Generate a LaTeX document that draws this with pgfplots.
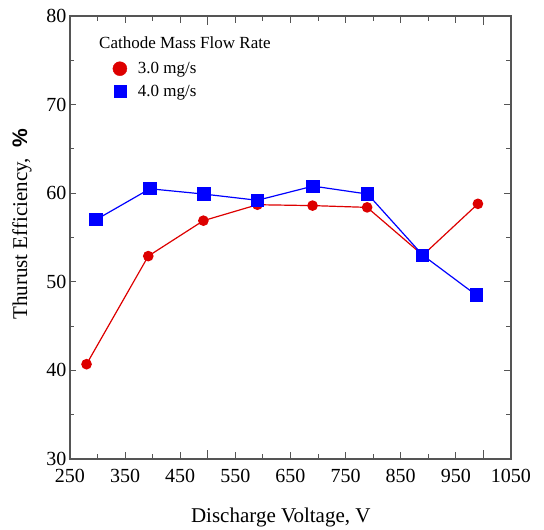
\documentclass[border=0pt]{standalone}
\usepackage{fontspec}
\setmainfont{Liberation Serif}
\setsansfont{Liberation Sans}
\usepackage{pgfplots}
\pgfplotsset{compat=1.18}
\definecolor{myred}{RGB}{221,0,0}
\definecolor{myblue}{RGB}{0,0,255}
\definecolor{axgray}{RGB}{85,85,85}
\begin{document}
\begin{tikzpicture}
\begin{axis}[
  at={(0pt,0pt)}, anchor=south west,
  scale only axis, width=441pt, height=443pt,
  xmin=250, xmax=1050, ymin=30, ymax=80,
  xtick={250,350,...,1050},
  minor xtick={300,400,...,1000},
  extra x ticks={500,1000}, extra x tick labels={},
  extra x tick style={major tick length=9pt},
  ytick={30,40,...,80},
  minor ytick={35,45,...,75},
  tick align=inside,
  major tick length=6.5pt, minor tick length=4.5pt,
  axis line style={axgray, line width=1.3pt},
  tick style={axgray, line width=1pt},
  tick label style={font=\fontsize{20}{24}\selectfont},
  xticklabel style={yshift=-7pt},
  /pgf/number format/assume math mode=true,
  /pgf/number format/set thousands separator={},
  xlabel={Discharge Voltage, V},
  ylabel={Thurust Efficiency,~~\textsf{\textbf{\%}}},
  label style={font=\fontsize{21}{25}\selectfont},
  xlabel style={at={(axis description cs:0.478,-0.131)}, anchor=center},
  ylabel style={at={(axis description cs:-0.109,0.53)}, anchor=center},
  legend style={draw=none, fill=none, at={(axis description cs:0.09,0.905)}, anchor=north west,
    font=\fontsize{17}{20}\selectfont, row sep=6pt,
    /tikz/every odd column/.append style={column sep=9pt}},
  legend cell align=left,
]
\addplot[myred, line width=1.2pt, mark=*, mark size=4.7pt, mark options={fill=myred, draw=myred}, forget plot]
  coordinates {(280,40.7) (392,52.9) (492,56.9) (590,58.7) (690,58.6) (789,58.4) (890,53.0) (990,58.8)};
\addplot[myblue, line width=1.2pt, mark=square*, mark size=6pt, mark options={fill=myblue, draw=myblue}, forget plot]
  coordinates {(297,57.0) (395,60.5) (493,59.9) (590,59.2) (691,60.8) (790,59.9) (890,53.0) (987,48.5)};
\addlegendimage{only marks, mark=*, mark size=7pt, mark options={fill=myred, draw=myred}}
\addlegendentry{3.0 mg/s}
\addlegendimage{only marks, mark=square*, mark size=6pt, mark options={fill=myblue, draw=myblue}}
\addlegendentry{4.0 mg/s}
\node[anchor=west, font=\fontsize{17}{20}\selectfont, inner sep=0pt] at (axis description cs:0.0658,0.94) {Cathode Mass Flow Rate};
\end{axis}
\pgfresetboundingbox
\path (-70pt,-71pt) rectangle (474pt,459pt);
\end{tikzpicture}
\end{document}
